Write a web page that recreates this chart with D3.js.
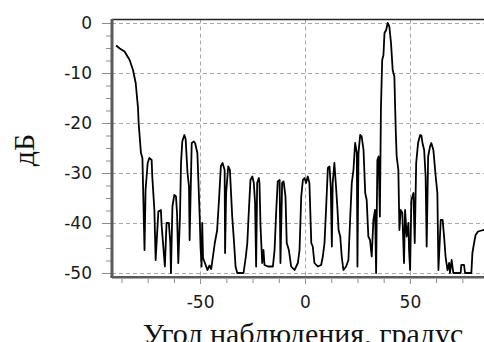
<!DOCTYPE html>
<html>
<head>
<meta charset="utf-8">
<script src="https://cdn.jsdelivr.net/npm/d3@7"></script>
<style>
    body { margin: 0; background: #fff; }
    .tick text { font-family: "DejaVu Sans", Verdana, sans-serif; font-size: 17px; fill: #1a1a1a; }
    .tick line { stroke: #8c8c8c; }
    .domain { display: none; }
    .grid line { stroke: #a8a8a8; stroke-dasharray: 4,3; }
    .title { font-family: "Liberation Serif", "Times New Roman", serif; font-size: 30px; fill: #111; }
</style>
</head>
<body>
<svg class="chart"></svg>
<script>
    // угол наблюдения, градусы
    var angleDeg = [-90, -88.3, -86.0, -83.6, -82.0, -80.7, -79.6, -79.3, -78.2, -77.5,
        -76.5, -76.0, -75.0, -74.2, -73.1, -72.8, -71.8, -71.2, -69.9, -68.7,
        -68.3, -66.8, -66.0, -64.9, -64.2, -63.9, -63.2, -62.3, -61.5, -61.0,
        -60.4, -59.6, -59.1, -58.5, -57.5, -56.9, -56.0, -55.3, -55.0, -54.0,
        -53.0, -52.4, -51.3, -50.2, -49.8, -49.3, -49.0, -48.6, -47.7, -46.5,
        -45.5, -44.7, -43.0, -41.9, -41.0, -40.1, -39.3, -38.3, -38.1, -37.6,
        -36.6, -35.8, -34.7, -33.9, -33.1, -32.3, -29.3, -28.2, -27.5, -26.7,
        -26.0, -25.1, -24.4, -23.8, -23.3, -22.8, -22.0, -21.7, -21.2, -20.4,
        -19.8, -19.3, -17.7, -15.3, -14.5, -13.7, -13.0, -12.1, -11.7, -10.9,
        -10.2, -9.3, -8.7, -7.7, -6.6, -5.0, -3.4, -2.6, -1.8, -1.0,
        -0.2, 0.5, 1.3, 2.1, 3.0, 3.7, 4.5, 6.1, 7.7, 8.5,
        9.3, 10.1, 10.9, 11.7, 12.3, 12.8, 13.2, 14.0, 14.9, 15.5,
        16.0, 16.8, 17.5, 18.3, 19.6, 20.7, 21.5, 22.3, 23.1, 23.9,
        24.7, 25.0, 25.5, 26.3, 27.0, 27.9, 28.7, 29.4, 30.2, 31.0,
        31.8, 32.6, 33.4, 33.9, 34.5, 35.1, 35.7, 36.2, 36.8, 37.4,
        37.9, 38.7, 39.4, 40.2, 41.0, 41.8, 42.6, 43.0, 43.3, 43.7,
        44.5, 45.0, 45.6, 46.4, 47.2, 47.7, 48.5, 49.3, 49.6, 50.1,
        50.7, 51.7, 52.3, 53.0, 53.9, 54.9, 55.5, 56.0, 56.8, 57.5,
        58.0, 58.7, 59.6, 60.2, 61.2, 62.3, 63.1, 63.6, 64.7, 65.6,
        66.3, 67.0, 67.9, 68.7, 69.1, 69.9, 70.7, 74.2, 74.5, 75.8,
        76.3, 79.3, 79.8, 80.6, 81.3, 82.5, 85.0, 90.0];

    // уровень, дБ
    var levelDb = [-4.5, -5.1, -5.7, -7.4, -9.4, -12, -17, -20, -26, -27,
        -45.4, -33.4, -28, -27, -27.4, -30.7, -37.4, -47.4, -37.7, -37.4,
        -40.7, -48.7, -40, -40, -44, -50, -36.7, -34.4, -34.7, -38,
        -48, -38.7, -28, -23.7, -22.4, -23.2, -30, -32.7, -43.4, -24,
        -23.7, -24, -26, -38.7, -44.7, -48.7, -40, -47, -48, -49.4,
        -48.5, -49.2, -44, -41.5, -35.4, -28.6, -28, -29.4, -46, -34,
        -28.7, -29.4, -38.7, -43.4, -48.7, -50, -50, -46.7, -44, -37,
        -31.4, -30.7, -32, -36, -48.7, -32, -31, -32, -40.7, -48,
        -45.4, -48.4, -48.7, -48.7, -45.4, -37.4, -31.7, -31.4, -48, -32,
        -31.7, -34.7, -44, -45.4, -48.7, -49.4, -48, -45.4, -34.7, -31.4,
        -31, -32, -30.7, -32, -44, -44.7, -48, -48.7, -48.4, -46.7,
        -44, -36.7, -29, -28.7, -33, -44.7, -32, -28, -33.4, -37.4,
        -41.4, -42.7, -46.7, -49.4, -48.7, -47.4, -39.4, -32, -29.4, -24,
        -26, -48.7, -26, -22.4, -22.7, -25.4, -34, -35.4, -42.7, -43.4,
        -46.7, -39.4, -37.4, -50, -27.4, -26.7, -38.7, -17, -7.4, -6.4,
        -2, -1.4, 0, -0.7, -4, -9.4, -10.7, -17.4, -22, -26.7,
        -29.4, -41.4, -37.4, -38, -48, -37.4, -42.7, -40, -45.4, -49.4,
        -35.4, -34, -44, -28, -24, -22.4, -22.5, -24, -25.4, -30.7,
        -44.7, -26.7, -24.7, -24, -25.4, -30.7, -34, -49.4, -39.4, -39.4,
        -42.7, -46.7, -49.4, -48, -50, -47.4, -50, -50, -48.4, -48.4,
        -50, -50, -46, -44, -42.4, -41.7, -41.4, -41.4];

    var xMajor = [-50, 0, 50];
    var xMinor = [-87.5, -75, -62.5, -37.5, -25, -12.5, 12.5, 25, 37.5, 62.5, 75, 87.5];
    var yMajor = [0, -10, -20, -30, -40, -50];
    var yMinor = [-2.5, -5, -7.5, -12.5, -15, -17.5, -22.5, -25, -27.5,
        -32.5, -35, -37.5, -42.5, -45, -47.5];

    var width = 484;
    var height = 342;
    var pLeft = 112, pRight = 498, pTop = 19.5, pBottom = 277;

    var x = d3.scaleLinear().domain([-92, 92]).range([pLeft, pRight]);
    var y = d3.scaleLinear().domain([-50.8, 0.7]).range([pBottom, pTop]);
    var label = function (d) { return String(d); };

    var chart = d3.select(".chart")
        .attr("width", width)
        .attr("height", height);

    chart.append("defs").append("clipPath").attr("id", "plot")
        .append("rect")
        .attr("x", pLeft).attr("y", pTop)
        .attr("width", pRight - pLeft).attr("height", pBottom - pTop);

    // сетка
    var grid = chart.append("g").attr("class", "grid");
    grid.selectAll(".h").data(yMajor).enter().append("line")
        .attr("x1", pLeft).attr("x2", pRight)
        .attr("y1", function (d) { return Math.round(y(d)) + 0.5; })
        .attr("y2", function (d) { return Math.round(y(d)) + 0.5; });
    grid.selectAll(".v").data(xMajor).enter().append("line")
        .attr("y1", pTop).attr("y2", pBottom)
        .attr("x1", function (d) { return Math.round(x(d)) + 0.5; })
        .attr("x2", function (d) { return Math.round(x(d)) + 0.5; });

    // оси
    chart.append("g")
        .attr("transform", "translate(" + (pLeft - 1) + ",0)")
        .call(d3.axisLeft(y).tickValues(yMinor).tickSize(5).tickFormat(""));
    chart.append("g")
        .attr("transform", "translate(" + (pLeft - 1) + ",0)")
        .call(d3.axisLeft(y).tickValues(yMajor).tickSize(9).tickPadding(10).tickFormat(label));

    chart.append("g")
        .attr("transform", "translate(0," + (pBottom + 1) + ")")
        .call(d3.axisBottom(x).tickValues(xMinor).tickSize(5).tickFormat(""));
    chart.append("g")
        .attr("transform", "translate(0," + (pBottom + 1) + ")")
        .call(d3.axisBottom(x).tickValues(xMajor).tickSize(6).tickPadding(12).tickFormat(label));

    // кривая
    var points = angleDeg.map(function (a, i) { return [a, levelDb[i]]; });
    chart.append("path")
        .datum(points)
        .attr("clip-path", "url(#plot)")
        .attr("fill", "none")
        .attr("stroke", "#000")
        .attr("stroke-width", 1.8)
        .attr("stroke-linejoin", "round")
        .attr("d", d3.line()
            .x(function (d) { return x(d[0]); })
            .y(function (d) { return y(d[1]); }));

    // рамка
    chart.append("line")
        .attr("x1", pLeft).attr("x2", width)
        .attr("y1", pTop).attr("y2", pTop)
        .attr("stroke", "#222").attr("stroke-width", 1.5);
    chart.append("line")
        .attr("x1", pLeft).attr("x2", pLeft)
        .attr("y1", pTop - 0.5).attr("y2", pBottom + 1)
        .attr("stroke", "#5a5a5a").attr("stroke-width", 3);
    chart.append("line")
        .attr("x1", pLeft - 1.5).attr("x2", width)
        .attr("y1", pBottom).attr("y2", pBottom)
        .attr("stroke", "#5a5a5a").attr("stroke-width", 2);
    chart.append("line")
        .attr("x1", pLeft).attr("x2", width)
        .attr("y1", pBottom + 1.5).attr("y2", pBottom + 1.5)
        .attr("stroke", "#aaa").attr("stroke-width", 1);

    // подписи осей
    chart.append("text")
        .attr("class", "title")
        .attr("text-anchor", "middle")
        .attr("x", 303)
        .attr("y", 344)
        .text("Угол наблюдения, градус");

    chart.append("text")
        .attr("class", "title")
        .attr("text-anchor", "middle")
        .attr("transform", "translate(34,150) rotate(-90)")
        .text("дБ");
</script>
</body>
</html>
